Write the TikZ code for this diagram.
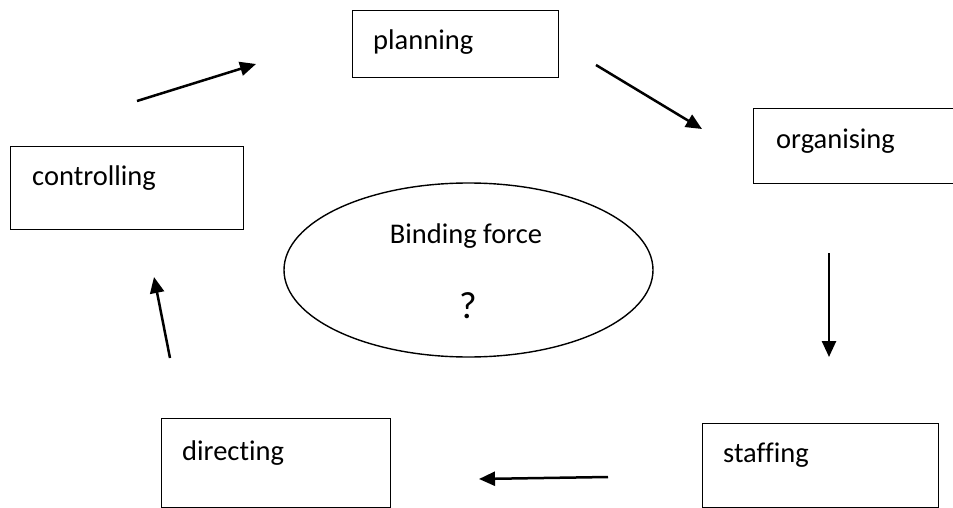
\documentclass[tikz,border=0pt]{standalone}
\usepackage{fontspec}
\setmainfont[Ligatures=NoCommon]{Carlito}
\usetikzlibrary{arrows.meta,shapes.geometric}
\tikzset{
  box/.style={draw=black, line width=1.4pt, rectangle, anchor=north west, inner sep=0pt},
  lbl/.style={anchor=base west, inner sep=0pt, font=\fontsize{28.5}{34}\selectfont},
  ctr/.style={anchor=base, inner sep=0pt, font=\fontsize{28.5}{34}\selectfont},
  flow/.style={line width=2.5pt, -{Triangle[length=16pt,width=14pt]}}
}
\begin{document}
\begin{tikzpicture}[x=1pt,y=-1pt]
\useasboundingbox (0,0) rectangle (953,508);
\clip (0,0) rectangle (953,508);
% boxes
\node[box, minimum width=206pt, minimum height=67pt] (planning) at (352,10) {};
\node[box, minimum width=230pt, minimum height=75pt] (organising) at (753,108) {};
\node[box, minimum width=236pt, minimum height=84pt] (staffing) at (702,423) {};
\node[box, minimum width=229pt, minimum height=89pt] (directing) at (161,418) {};
\node[box, minimum width=233pt, minimum height=83pt] (controlling) at (10,146) {};
% labels
\node[lbl] (planningT) at ([xshift=21pt,yshift=-40pt]planning.north west) {planning};
\node[lbl] (organisingT) at ([xshift=23pt,yshift=-41pt]organising.north west) {organising};
\node[lbl] (staffingT) at ([xshift=21pt,yshift=-39pt]staffing.north west) {staffing};
\node[lbl] (directingT) at ([xshift=21pt,yshift=-42pt]directing.north west) {directing};
\node[lbl] (controllingT) at ([xshift=22pt,yshift=-39pt]controlling.north west) {controlling};
% centre ellipse
\node[draw=black, line width=1.4pt, ellipse, minimum width=369pt, minimum height=174pt, inner sep=0pt] (bind) at (468.5,270) {};
\node[ctr] (bindT) at (466,243) {Binding force};
\node[ctr, font=\fontsize{38}{44}\selectfont] (qT) at (468,318) {?};
% arrow end points
\coordinate (a1s) at (137,101);
\coordinate (a1e) at (256,64);
\coordinate (a2s) at (596,65);
\coordinate (a2e) at (702,129);
\coordinate (a3s) at (829,253);
\coordinate (a3e) at (829,357);
\coordinate (a4s) at (608,477);
\coordinate (a4e) at (479,479);
\coordinate (a5s) at (170,358);
\coordinate (a5e) at (154,277);
\draw[flow] (a1s) -- (a1e);
\draw[flow] (a2s) -- (a2e);
\draw[flow] (a3s) -- (a3e);
\draw[flow] (a4s) -- (a4e);
\draw[flow] (a5s) -- (a5e);
\end{tikzpicture}
\end{document}
